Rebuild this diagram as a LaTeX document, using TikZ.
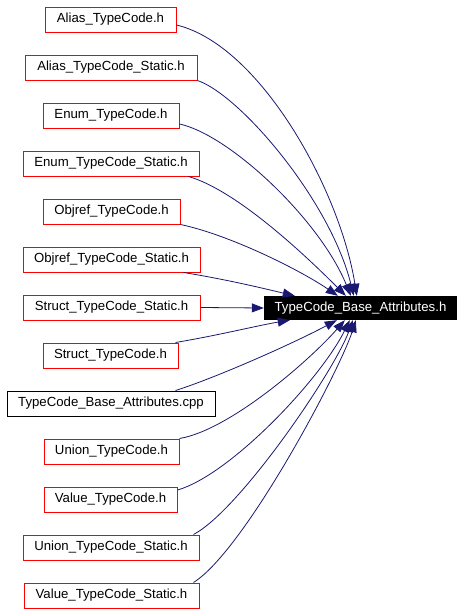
\documentclass[tikz,border=0pt]{standalone}
\usepackage{fontspec}
\setmainfont{Liberation Sans}
\usetikzlibrary{arrows.meta}
\definecolor{edgec}{HTML}{191970}
\begin{document}
\begin{tikzpicture}[x=1pt,y=-1pt,
  box/.style={draw=red,line width=1pt,minimum height=25pt,inner sep=0pt,font=\fontsize{13.2}{15}\selectfont},
  cppbox/.style={box,draw=black},
  target/.style={fill=black,text=white,minimum height=24pt,minimum width=193pt,inner sep=0pt,font=\fontsize{13.2}{15}\selectfont},
  edge/.style={draw=edgec,line width=0.8pt,-{Triangle[length=12pt,width=9pt]}}]
\useasboundingbox (0,0) rectangle (464,613);
\fill[white] (0,0) rectangle (464,613);
\node[target] (t) at (360.5,308) {TypeCode\_Base\_Attributes.h};
\node[box,minimum width=131pt] (n1) at (110.5,19.5) {Alias\_TypeCode.h};
\node[box,minimum width=172pt] (n2) at (111,67.5) {Alias\_TypeCode\_Static.h};
\node[box,minimum width=136pt] (n3) at (111,115.5) {Enum\_TypeCode.h};
\node[box,minimum width=176pt] (n4) at (111,163.5) {Enum\_TypeCode\_Static.h};
\node[box,minimum width=137pt] (n5) at (111.5,211.5) {Objref\_TypeCode.h};
\node[box,minimum width=177pt] (n6) at (111.5,259.5) {Objref\_TypeCode\_Static.h};
\node[box,minimum width=177pt] (n7) at (111.5,307.5) {Struct\_TypeCode\_Static.h};
\node[box,minimum width=135pt] (n8) at (110.5,355.5) {Struct\_TypeCode.h};
\node[cppbox,minimum width=208pt] (n9) at (111,403.5) {TypeCode\_Base\_Attributes.cpp};
\node[box,minimum width=135pt] (n10) at (111.5,451.5) {Union\_TypeCode.h};
\node[box,minimum width=133pt] (n11) at (110.5,499.5) {Value\_TypeCode.h};
\node[box,minimum width=176pt] (n12) at (111,547.5) {Union\_TypeCode\_Static.h};
\node[box,minimum width=175pt] (n13) at (111.5,595.5) {Value\_TypeCode\_Static.h};
\draw[edge] ([yshift=-5.5pt]n1.east) .. controls (260,45) and (340,190) .. ([xshift=93pt]t.north west);
\draw[edge] (n2.south east) .. controls (240,95) and (330,200) .. ([xshift=90pt]t.north west);
\draw[edge] ([yshift=-8.5pt]n3.east) .. controls (230,135) and (320,220) .. ([xshift=87pt]t.north west);
\draw[edge] ([xshift=-11pt]n4.south east) .. controls (235,190) and (300,250) .. ([xshift=82pt]t.north west);
\draw[edge] (n5.south east) .. controls (230,235) and (300,270) .. ([xshift=74pt]t.north west);
\draw[edge] ([xshift=-17pt]n6.south east) .. controls (230,280) and (270,290) .. ([xshift=31pt]t.north west);
\draw[edge] (n7.east) -- (t.west);
\draw[edge] ([xshift=-3pt]n8.north east) .. controls (220,335) and (260,325) .. ([xshift=26pt]t.south west);
\draw[edge] ([xshift=-40pt]n9.north east) .. controls (215,378) and (290,345) .. ([xshift=73pt]t.south west);
\draw[edge] (n10.north east) .. controls (230,430) and (310,360) .. ([xshift=81pt]t.south west);
\draw[edge] ([yshift=9.5pt]n11.east) .. controls (230,475) and (320,380) .. ([xshift=86pt]t.south west);
\draw[edge] ([xshift=-6pt]n12.north east) .. controls (240,510) and (335,370) .. ([xshift=89pt]t.south west);
\draw[edge] ([xshift=-6pt]n13.north east) .. controls (245,550) and (340,370) .. ([xshift=92pt]t.south west);
\end{tikzpicture}
\end{document}
